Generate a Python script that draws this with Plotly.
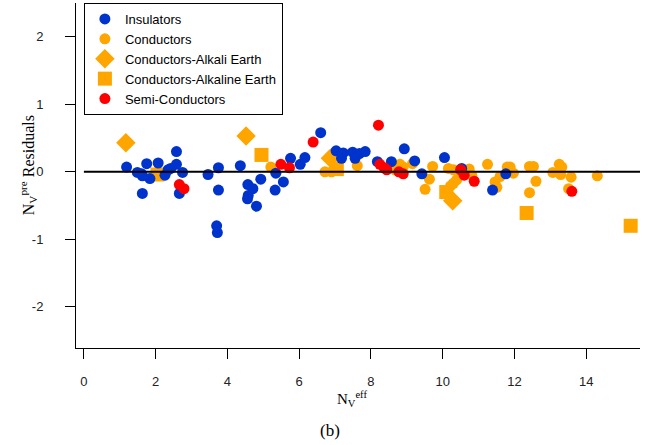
import plotly.graph_objects as go

# ---- data (x = N_V^eff, y = N_V^pre residuals) ----
ins_x = [1.19, 1.49, 1.61, 1.63, 1.75, 1.84, 2.07, 2.26, 2.35, 2.42, 2.58, 2.58, 2.75, 1.63, 2.66,
         3.46, 3.75, 3.75, 3.70, 3.72, 4.36, 4.57, 4.71, 4.58, 4.56, 4.81, 4.93, 5.33, 5.35, 5.56,
         5.76, 6.03, 6.16, 6.60, 7.03, 7.18, 7.23, 7.49, 7.56, 7.68, 7.84, 8.18, 8.57, 8.93, 9.22,
         9.42, 10.05, 10.53, 11.39, 11.76]
ins_y = [0.07, -0.01, -0.03, -0.06, 0.12, -0.10, 0.13, -0.05, 0.03, 0.05, 0.30, 0.11, -0.01, -0.32, -0.32,
         -0.04, 0.06, -0.27, -0.80, -0.90, 0.09, -0.19, -0.25, -0.35, -0.40, -0.51, -0.11, -0.27, -0.02, -0.15,
         0.20, 0.11, 0.21, 0.58, 0.31, 0.20, 0.28, 0.29, 0.20, 0.27, 0.30, 0.15, 0.15, 0.34, 0.16,
         -0.03, 0.21, 0.05, -0.27, -0.03]

con_x = [5.21, 6.72, 6.90, 7.62, 8.67, 8.81, 8.90, 9.16, 9.63, 9.51, 9.72, 10.16, 10.30, 10.30, 10.39,
         10.22, 10.44, 10.74, 10.81, 11.25, 11.46, 11.51, 11.60, 11.80, 11.88, 11.97, 12.42, 12.53,
         12.60, 12.42, 13.25, 13.32, 13.07, 13.29, 13.58, 13.51, 14.31]
con_y = [0.07, 0.00, 0.00, 0.09, 0.03, 0.11, 0.07, 0.12, -0.11, -0.26, 0.08, 0.05, 0.03, -0.17, -0.12,
         -0.21, -0.02, 0.04, -0.05, 0.11, -0.15, -0.23, -0.07, 0.07, 0.07, -0.02, 0.08, 0.08,
         -0.14, -0.31, 0.11, 0.07, -0.01, -0.04, -0.08, -0.25, -0.06]

alk_x = [1.17, 4.52, 6.87, 10.28]
alk_y = [0.43, 0.53, 0.20, -0.43]

ale_x = [2.05, 4.95, 7.05, 10.10, 12.34, 15.24]
ale_y = [-0.04, 0.25, 0.04, -0.30, -0.61, -0.80]

semi_x = [2.66, 2.79, 5.49, 5.73, 6.39, 8.21, 8.25, 8.37, 8.44, 8.78, 8.90, 10.50, 10.60, 10.88, 13.60]
semi_y = [-0.19, -0.25, 0.11, 0.06, 0.44, 0.69, 0.11, 0.06, 0.03, 0.00, -0.03, 0.03, -0.05, -0.14, -0.29]

x_ticks = [0, 2, 4, 6, 8, 10, 12, 14]
y_ticks = [-2, -1, 0, 1, 2]

BLUE = "rgb(0,51,204)"
ORANGE = "rgb(255,165,0)"
RED = "rgb(255,0,0)"

fig = go.Figure()
fig.add_trace(go.Scatter(x=con_x, y=con_y, mode="markers", name="Conductors", legendrank=2,
                         marker=dict(symbol="circle", size=11, color=ORANGE, line=dict(width=0))))
fig.add_trace(go.Scatter(x=alk_x, y=alk_y, mode="markers", name="Conductors-Alkali Earth", legendrank=3,
                         marker=dict(symbol="diamond", size=15, color=ORANGE, line=dict(width=0))))
fig.add_trace(go.Scatter(x=ale_x, y=ale_y, mode="markers", name="Conductors-Alkaline Earth", legendrank=4,
                         marker=dict(symbol="square", size=14, color=ORANGE, line=dict(width=0))))
fig.add_trace(go.Scatter(x=ins_x, y=ins_y, mode="markers", name="Insulators", legendrank=1,
                         marker=dict(symbol="circle", size=11, color=BLUE, line=dict(width=0))))
fig.add_trace(go.Scatter(x=semi_x, y=semi_y, mode="markers", name="Semi-Conductors", legendrank=5,
                         marker=dict(symbol="circle", size=11, color=RED, line=dict(width=0))))

# zero reference line
fig.add_shape(type="line", xref="x", yref="y", x0=0, x1=15.5, y0=0, y1=0,
              line=dict(color="black", width=2), layer="above")

tickfont = dict(family="Arial, Liberation Sans", size=13, color="#222")
fig.update_xaxes(range=[-0.22, 15.5], tickvals=x_ticks, ticktext=[str(v) for v in x_ticks],
                 ticks="outside", ticklen=10, tickwidth=1,
                 tickcolor="black", showline=True, linecolor="black", linewidth=1, showgrid=False,
                 zeroline=False, tickfont=tickfont, ticklabelstandoff=11)
fig.update_yaxes(range=[-2.61, 2.5], tickvals=y_ticks, ticktext=[str(v) for v in y_ticks],
                 ticks="outside", ticklen=10, tickwidth=1,
                 tickcolor="black", showline=True, linecolor="black", linewidth=1, showgrid=False,
                 zeroline=False, tickfont=tickfont, ticklabelstandoff=19)

serif = "Times New Roman, Liberation Serif, serif"
fig.add_annotation(text="N<sub>V</sub><sup>eff</sup>", xref="paper", yref="paper", x=0.49, y=-0.148,
                   showarrow=False, font=dict(family=serif, size=15, color="black"), yanchor="middle")
fig.add_annotation(text="N<sub>V</sub><sup>pre</sup> Residuals", xref="paper", yref="paper",
                   x=-0.108, y=0.53, textangle=-90, showarrow=False,
                   font=dict(family=serif, size=16, color="black"))
fig.add_annotation(text="(b)", xref="paper", yref="paper", x=0.45, y=-0.238, yanchor="middle",
                   showarrow=False, font=dict(family=serif, size=17, color="black"))

fig.update_layout(
    width=649, height=445,
    margin=dict(l=76, r=9, t=3, b=97),
    plot_bgcolor="white", paper_bgcolor="white",
    legend=dict(x=0.014, y=1.0, xanchor="left", yanchor="top", bgcolor="white",
                bordercolor="black", borderwidth=1,
                font=dict(family="Arial, Liberation Sans", size=13, color="black"),
                tracegroupgap=0, itemsizing="trace"),
)

fig.write_html("out.html")
